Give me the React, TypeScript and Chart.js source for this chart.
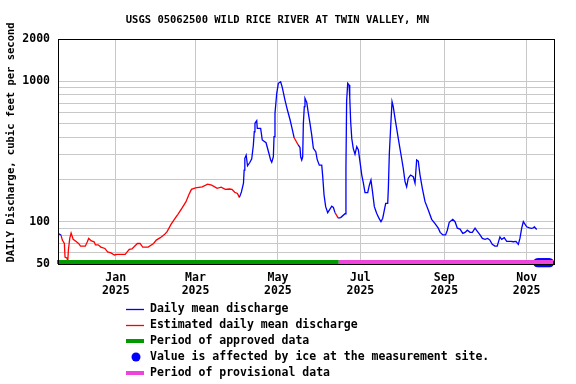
import React, { useEffect, useRef } from "react";
import { Chart, registerables } from "chart.js";

Chart.register(...registerables);

const TITLE = "USGS 05062500 WILD RICE RIVER AT TWIN VALLEY, MN";
const Y_TITLE = "DAILY Discharge, cubic feet per second";

// day numbers relative to 2025-01-01
const DAYS = [
  -42, -40.5, -39.5, -38, -37.5, -36, -35.5, -35, -34, -33,
  -31.5, -29.5, -27.5, -26, -22.5, -21, -20, -18, -16, -15,
  -13, -11, -8, -6, -3.5, -1, 1, 7, 10, 12,
  16, 18, 20, 24, 28, 30, 33, 36, 38, 41,
  44, 46, 49, 52, 54, 56, 59, 64, 68, 71,
  75, 78, 81, 84, 86, 88, 90, 91.5, 93, 94.5,
  95, 95.5, 96.5, 97.5, 99.3, 100.6, 101.8, 102.5, 103, 104.3,
  104.7, 107.2, 108.4, 111.2, 113, 114.6, 115.4, 116.6, 117.1, 117.8,
  119.1, 120.3, 122, 123.2, 125.2, 127, 129, 130.6, 132, 135,
  136.3, 136.8, 137.6, 138.3, 138.8, 139.5, 140, 141.3, 142.5, 143.7,
  145, 146.2, 148, 149, 150.6, 152.4, 153.1, 154.1, 155.3, 156.8,
  158, 159.8, 161, 162.2, 164.6, 166.4, 169.6, 170.3, 170.8, 171.6,
  172.6, 173.1, 173.8, 174.6, 175.7, 177, 178.3, 179.5, 180.7, 182,
  183.2, 184.4, 186.4, 187.6, 188.8, 189.8, 191.3, 193, 194.7, 196.2,
  197.5, 198.7, 199.7, 201.2, 201.7, 202.4, 203.4, 204.4, 205.3, 206.6,
  207.8, 209, 210.3, 211.5, 212.7, 214, 215.2, 216.4, 218.1, 220.1,
  221.4, 222.6, 223.8, 225.1, 226.8, 228.8, 231.2, 233.7, 236.2, 238.6,
  240, 242, 244, 245.3, 246.7, 249.3, 251, 252.7, 254.7, 256.7,
  258.4, 260.1, 262.1, 263.8, 265.8, 267.5, 269.5, 271.2, 273.2, 275.1,
  276.8, 278.5, 280.5, 282.2, 284.2, 285.5, 287.4, 289.2, 292.4, 294.1,
  296.1, 297.8, 299, 300.3, 301.5, 302.7, 304, 306, 307.7, 309,
  309.6, 311.4,
];

// daily mean discharge, cubic feet per second
const FLOW = [
  82, 80.5, 74, 70, 56, 55, 52, 63, 76, 83,
  75, 72.5, 70, 67, 67, 72, 76, 73, 72, 68.5,
  68.5, 66, 64.5, 61, 60, 58, 58.5, 58.5, 63.5, 64,
  70, 70, 66, 66, 70, 74, 77, 81, 85, 96,
  106, 113, 125, 139, 155, 170, 174, 177, 185, 182,
  173, 176, 170, 171, 170, 162, 159, 149, 163, 188,
  233, 283, 298, 250, 265, 280, 350, 437, 502, 524,
  462, 462, 382, 365, 315, 275, 265, 290, 403, 591,
  821, 967, 993, 906, 735, 624, 530, 455, 396, 352,
  338, 290, 275, 290, 502, 659, 756, 708, 591, 502,
  414, 333, 315, 278, 253, 253, 211, 155, 128, 116,
  121, 129, 126.5, 116, 106, 107, 114, 240, 720, 967,
  940, 776, 515, 392, 333, 302, 342, 324, 267, 215,
  188, 161, 161, 182, 198, 168, 128, 115, 106, 100,
  106, 121, 135, 135, 177, 307, 474, 715, 659, 545,
  462, 392, 330, 282, 240, 193, 177, 204, 215, 209,
  188, 275, 270, 215, 173, 139, 121, 104, 97, 90,
  84, 80.5, 80.5, 87, 99, 104, 100, 90, 88.6, 82.6,
  84, 87, 84, 84, 90, 85.4, 80.5, 76, 75, 76,
  74, 69, 67, 67, 78, 75, 77, 72.5, 72.5, 72,
  72.5, 69, 76, 90, 100, 96, 92, 90.5, 89.7, 90.5,
  92, 88,
];

// estimated-value periods (day ranges)
const ESTIMATED = [
  [-40.5, 91.5],
  [132, 135],
  [162.2, 164.6],
];

const ICE_DAYS = [312, 313, 314, 315, 316, 317, 318, 319, 320, 321];
const ICE_LEVEL = 51;

const APPROVED = [-42.7, 165];
const PROVISIONAL = [165, 324.2];

const X_MIN = -42.7;
const X_MAX = 324.2;
const X_TICKS = [0, 59, 120, 181, 243, 304];
const X_LABELS = [
  ["Jan", "2025"],
  ["Mar", "2025"],
  ["May", "2025"],
  ["Jul", "2025"],
  ["Sep", "2025"],
  ["Nov", "2025"],
];

const Y_MIN = 50;
const Y_MAX = 2000;
const Y_GRID = [50, 60, 70, 80, 90, 100, 200, 300, 400, 500, 600, 700, 800, 900, 1000, 2000];
const Y_LABELS = [50, 100, 1000, 2000];

const LEGEND = [
  { label: "Daily mean discharge", kind: "line", color: "#0000ff" },
  { label: "Estimated daily mean discharge", kind: "line", color: "#ff0000" },
  { label: "Period of approved data", kind: "bar", color: "#009900" },
  { label: "Value is affected by ice at the measurement site.", kind: "dot", color: "#0000ff" },
  { label: "Period of provisional data", kind: "bar", color: "#ee44dd" },
];

const BLUE = "#0000ff";
const RED = "#ff0000";
const GREEN = "#009900";
const PINK = "#ee44dd";
const GRID = "#c8c8c8";
const FONT = '"DejaVu Sans Mono", "Liberation Mono", monospace';

const isEstimated = (a: number, b: number) => {
  const m = (a + b) / 2;
  return ESTIMATED.some(([s, e]) => m >= s && m <= e);
};

const decor = {
  id: "decor",
  beforeDraw(chart: any) {
    const { ctx, width, height } = chart;
    ctx.save();
    ctx.fillStyle = "#ffffff";
    ctx.fillRect(0, 0, width, height);
    ctx.restore();
  },
  afterDatasetsDraw(chart: any) {
    const { ctx, chartArea: a, scales } = chart;
    const x = scales.x;
    ctx.save();
    const g0 = x.getPixelForValue(APPROVED[0]);
    const g1 = x.getPixelForValue(APPROVED[1]);
    ctx.fillStyle = GREEN;
    ctx.fillRect(g0 - 1, a.bottom - 4, g1 - g0 + 1, 4);
    const p0 = x.getPixelForValue(PROVISIONAL[0]);
    const p1 = x.getPixelForValue(PROVISIONAL[1]);
    ctx.fillStyle = PINK;
    ctx.fillRect(p0, a.bottom - 4, p1 - p0 - 1, 4);
    ctx.strokeStyle = "#000000";
    ctx.lineWidth = 1;
    ctx.strokeRect(a.left + 0.5, a.top + 0.5, a.right - a.left, a.bottom - a.top);
    ctx.restore();
  },
  afterDraw(chart: any) {
    const { ctx } = chart;
    ctx.save();
    ctx.fillStyle = "#000000";
    ctx.font = `bold 10.5px ${FONT}`;
    ctx.textAlign = "center";
    ctx.textBaseline = "middle";
    ctx.fillText(TITLE, 277.5, 20.5);

    ctx.save();
    ctx.translate(11, 142.5);
    ctx.rotate(-Math.PI / 2);
    ctx.font = `bold 10.5px ${FONT}`;
    ctx.fillText(Y_TITLE, 0, 0);
    ctx.restore();

    ctx.font = `bold 11.5px ${FONT}`;
    ctx.textAlign = "left";
    LEGEND.forEach((item, i) => {
      const y = 309 + i * 16;
      if (item.kind === "line") {
        ctx.strokeStyle = item.color;
        ctx.lineWidth = 1.3;
        ctx.beginPath();
        ctx.moveTo(126, y + 0.5);
        ctx.lineTo(144, y + 0.5);
        ctx.stroke();
      } else if (item.kind === "bar") {
        ctx.fillStyle = item.color;
        ctx.fillRect(126, y - 2, 18, 4);
      } else {
        ctx.fillStyle = item.color;
        ctx.beginPath();
        ctx.ellipse(136, y, 4.5, 4.5, 0, 0, Math.PI * 2);
        ctx.fill();
      }
      ctx.fillStyle = "#000000";
      ctx.fillText(item.label, 150, y + 0.5);
    });
    ctx.restore();
  },
};

export default function App() {
  const ref = useRef<HTMLCanvasElement>(null);

  useEffect(() => {
    const tickFont = { family: FONT, size: 11.5, weight: "bold" as const, lineHeight: 1.15 };
    const chart = new Chart(ref.current as HTMLCanvasElement, {
      type: "line",
      data: {
        datasets: [
          {
            data: DAYS.map((d, i) => ({ x: d, y: FLOW[i] })),
            borderColor: BLUE,
            borderWidth: 1.3,
            pointRadius: 0,
            tension: 0,
            fill: false,
            segment: {
              borderColor: (c: any) => (isEstimated(c.p0.parsed.x, c.p1.parsed.x) ? RED : BLUE),
            },
          } as any,
          {
            data: ICE_DAYS.map((d) => ({ x: d, y: ICE_LEVEL })),
            showLine: false,
            pointRadius: 4.5,
            pointBackgroundColor: BLUE,
            pointBorderWidth: 0,
            borderColor: BLUE,
            clip: false,
          } as any,
        ],
      },
      options: {
        responsive: false,
        devicePixelRatio: 1,
        animation: false,
        events: [],
        layout: { padding: { top: 39, right: 22, left: 0, bottom: 0 } },
        plugins: {
          legend: { display: false },
          tooltip: { enabled: false },
          title: { display: false },
        },
        scales: {
          x: {
            type: "linear",
            min: X_MIN,
            max: X_MAX,
            afterBuildTicks: (s: any) => {
              s.ticks = X_TICKS.map((v) => ({ value: v }));
            },
            afterFit: (s: any) => {
              s.height = 120;
            },
            ticks: {
              autoSkip: false,
              maxRotation: 0,
              minRotation: 0,
              padding: 7,
              color: "#000000",
              font: tickFont,
              callback: (_v: any, i: number) => X_LABELS[i],
            },
            grid: { color: GRID, lineWidth: 1, drawTicks: false },
            border: { display: false },
          },
          y: {
            type: "logarithmic",
            min: Y_MIN,
            max: Y_MAX,
            afterBuildTicks: (s: any) => {
              s.ticks = Y_GRID.map((v) => ({ value: v }));
            },
            afterFit: (s: any) => {
              s.width = 58;
            },
            ticks: {
              autoSkip: false,
              padding: 8,
              color: "#000000",
              font: tickFont,
              callback: (v: any) => (Y_LABELS.includes(Number(v)) ? String(v) : ""),
            },
            grid: { color: GRID, lineWidth: 1, drawTicks: false },
            border: { display: false },
          },
        },
      } as any,
      plugins: [decor],
    });
    return () => chart.destroy();
  }, []);

  return (
    <div style={{ position: "fixed", left: 0, top: 0, width: 576, height: 384, background: "#ffffff" }}>
      <canvas ref={ref} width={576} height={384} style={{ display: "block", width: 576, height: 384 }} />
    </div>
  );
}
